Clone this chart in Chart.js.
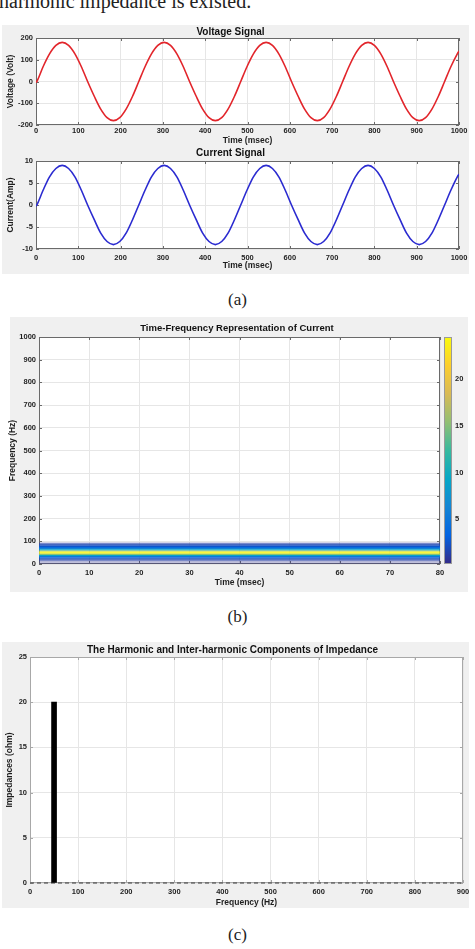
<!DOCTYPE html>
<html>
<head>
<meta charset="utf-8">
<script src="https://cdn.jsdelivr.net/npm/chart.js"></script>
<style>
body{margin:0;background:#fff;width:475px;height:949px;overflow:hidden;position:relative;font-family:"Liberation Serif","Times New Roman",serif}
.panel{position:absolute;background:#f0f0f0}
.cv{position:absolute}
.txt{position:absolute;color:#222;white-space:nowrap}
.cap{position:absolute;left:0;width:475px;text-align:center;font-size:17px;line-height:20px;color:#222}
</style>
</head>
<body>
<div class="txt" style="left:-1px;top:-9px;font-size:20px;line-height:20px">harmonic impedance is existed.</div>

<div class="panel" style="left:2px;top:25px;width:467px;height:249px"></div>
<div class="panel" style="left:10px;top:317px;width:458px;height:275px"></div>
<div class="panel" style="left:2px;top:642px;width:467px;height:266px"></div>

<canvas id="volt" class="cv" style="left:2px;top:25px" width="467" height="121"></canvas>
<canvas id="curr" class="cv" style="left:2px;top:146px" width="467" height="126"></canvas>
<canvas id="spec" class="cv" style="left:6px;top:317px" width="462" height="275"></canvas>
<canvas id="imp" class="cv" style="left:2px;top:642px" width="467" height="266"></canvas>

<div class="cap" style="top:290px">(a)</div>
<div class="cap" style="top:607px">(b)</div>
<div class="cap" style="top:925px">(c)</div>

<script>
"use strict"
// (a) signals (msec)
const sigTime = [0,
    2,17,32,47,62,77,92,107,122,138,153,168,183,198,213,228,
    243,258,273,288,303,318,333,348,363,379,394,409,424,439,454,469,
    484,499,514,529,544,559,574,589,604,620,635,650,665,680,695,710,
    725,740,755,770,785,800,815,830,845,861,876,891,906,921,936,951,
    966,981,996,1000];
const voltValue = [-5,
    0,69,127,166,180,166,127,69,0,-69,-127,-166,-180,-166,-127,-69,
    0,69,127,166,180,166,127,69,0,-69,-127,-166,-180,-166,-127,-69,
    0,69,127,166,180,166,127,69,0,-69,-127,-166,-180,-166,-127,-69,
    0,69,127,166,180,166,127,69,0,-69,-127,-166,-180,-166,-127,-69,
    0,69,127,140];
const currValue = [-0.3,
    0,3.4,6.4,8.3,9,8.3,6.4,3.4,0,-3.4,-6.4,-8.3,-9,-8.3,-6.4,-3.4,
    0,3.4,6.4,8.3,9,8.3,6.4,3.4,0,-3.4,-6.4,-8.3,-9,-8.3,-6.4,-3.4,
    0,3.4,6.4,8.3,9,8.3,6.4,3.4,0,-3.4,-6.4,-8.3,-9,-8.3,-6.4,-3.4,
    0,3.4,6.4,8.3,9,8.3,6.4,3.4,0,-3.4,-6.4,-8.3,-9,-8.3,-6.4,-3.4,
    0,3.4,6.4,7.0];
const sigTimeTicks = [0,100,200,300,400,500,600,700,800,900,1000];
const voltTicks = [-200,-100,0,100,200];
const currTicks = [-10,-5,0,5,10];

// (b) spectrogram: frequency bin edges (Hz) and magnitude per bin, constant over time
const specTime = [0, 80];
const specFreqEdges = [0,5,10,15,20,25,30,35,40,45,50,55,60,65,70,75,80,85,90,95];
const specPower = [0.5,0.5,0.6,1.5,2,3,5,9,15,24,24,15,9,6,4,2.5,2,1.5,0.6];
const specTimeTicks = [0,10,20,30,40,50,60,70,80];
const specFreqTicks = [0,100,200,300,400,500,600,700,800,900,1000];
const cbTicks = [5,10,15,20];
const cbMin = 0.2, cbMax = 24.5;

// (c) impedance components
const impFreq = [50];
const impValue = [20];
const impFreqTicks = [0,100,200,300,400,500,600,700,800,900];
const impTicks = [0,5,10,15,20,25];

const sans = '"Liberation Sans", Arial, sans-serif';
const tickFont = {family: sans, size: 7.5, weight: 'bold'};
const axisFont = {family: sans, size: 8.5, weight: 'bold'};
const gridColor = '#e6e6e6';
const textColor = '#1e1e1e';

const parula = ['#352A87','#0363E1','#1485D4','#06A7C6','#38B99E','#92BF73','#D9BA56','#FCCE2E','#F9FB0E'];

function hexRgb(h){
    return [parseInt(h.substr(1,2),16), parseInt(h.substr(3,2),16), parseInt(h.substr(5,2),16)];
}
function parulaColor(v){
    let t = (v - cbMin) / (cbMax - cbMin);
    t = Math.max(0, Math.min(1, t));
    const p = t * (parula.length - 1);
    const i = Math.min(Math.floor(p), parula.length - 2);
    const f = p - i;
    const a = hexRgb(parula[i]), b = hexRgb(parula[i+1]);
    const c = a.map((x,k) => Math.round(x + (b[k]-x)*f));
    const alpha = Math.min(1, v / 1.5);
    return 'rgba(' + c[0] + ',' + c[1] + ',' + c[2] + ',' + alpha.toFixed(2) + ')';
}

function fixW(w){
    return function(s){ s.width = w; s.paddingTop = 0; s.paddingBottom = 0; s.paddingLeft = 0; s.paddingRight = 0; };
}
function fixH(h){
    return function(s){ s.height = h; s.paddingTop = 0; s.paddingBottom = 0; s.paddingLeft = 0; s.paddingRight = 0; };
}
function useTicks(arr){
    return function(s){ s.ticks = arr.map(v => ({value: v})); };
}
function plain(v){ return String(v); }

// matlab-like axes: white area, box with inner tick marks
const boxPlugin = {
    id: 'box',
    beforeDraw(chart){
        const ctx = chart.ctx, a = chart.chartArea;
        ctx.save();
        ctx.fillStyle = '#ffffff';
        ctx.fillRect(a.left, a.top, a.right - a.left, a.bottom - a.top);
        ctx.restore();
    },
    beforeDatasetsDraw(chart, args, opts){
        const ctx = chart.ctx, a = chart.chartArea;
        const sx = chart.scales.x, sy = chart.scales.y;
        ctx.save();
        ctx.strokeStyle = opts.color || '#666';
        ctx.lineWidth = 1;
        ctx.beginPath();
        sx.ticks.forEach(t => {
            const px = Math.round(sx.getPixelForValue(t.value)) + 0.5;
            ctx.moveTo(px, a.bottom); ctx.lineTo(px, a.bottom - 3);
            ctx.moveTo(px, a.top); ctx.lineTo(px, a.top + 3);
        });
        sy.ticks.forEach(t => {
            const py = Math.round(sy.getPixelForValue(t.value)) + 0.5;
            ctx.moveTo(a.left, py); ctx.lineTo(a.left + 3, py);
            ctx.moveTo(a.right, py); ctx.lineTo(a.right - 3, py);
        });
        ctx.stroke();
        ctx.strokeRect(Math.round(a.left) + 0.5, Math.round(a.top) + 0.5,
                       Math.round(a.right - a.left) - 1, Math.round(a.bottom - a.top) - 1);
        ctx.restore();
    }
};

const colorbarPlugin = {
    id: 'colorbar',
    afterDraw(chart){
        const s = chart.scales.cb;
        if (!s) return;
        const ctx = chart.ctx;
        const x0 = s.left + 4, w = 8;
        const g = ctx.createLinearGradient(0, s.bottom, 0, s.top);
        parula.forEach((c,i) => g.addColorStop(i / (parula.length - 1), c));
        ctx.save();
        ctx.fillStyle = g;
        ctx.fillRect(x0, s.top, w, s.bottom - s.top);
        ctx.strokeStyle = '#9a9a9a';
        ctx.lineWidth = 1;
        ctx.strokeRect(x0 + 0.5, s.top + 0.5, w - 1, s.bottom - s.top - 1);
        ctx.restore();
    }
};

function xAxis(min, max, ticks, height, pad, title, titlePad){
    return {
        type: 'linear', min: min, max: max, offset: false,
        afterFit: fixH(height), afterBuildTicks: useTicks(ticks),
        grid: {color: gridColor, drawTicks: false, offset: false},
        border: {display: false},
        ticks: {font: tickFont, color: textColor, padding: pad, maxRotation: 0, autoSkip: false, callback: plain},
        title: {display: true, text: title, font: axisFont, color: textColor, padding: {top: 0, bottom: titlePad}}
    };
}
function yAxis(min, max, ticks, width, title, titlePad){
    return {
        type: 'linear', min: min, max: max,
        afterFit: fixW(width), afterBuildTicks: useTicks(ticks),
        grid: {color: gridColor, drawTicks: false},
        border: {display: false},
        ticks: {font: tickFont, color: textColor, padding: 3, callback: plain},
        title: {display: true, text: title, font: axisFont, color: textColor, padding: {top: titlePad, bottom: 0}}
    };
}
function baseOptions(title, titleSize, padTop, padBottom, layoutPad){
    return {
        responsive: false, animation: false, devicePixelRatio: 1,
        layout: {padding: layoutPad},
        plugins: {
            legend: {display: false},
            tooltip: {enabled: false},
            title: {display: true, text: title, color: '#111',
                    font: {family: sans, size: titleSize, weight: 'bold'},
                    padding: {top: padTop, bottom: padBottom}},
            box: {color: '#6a6a6a'}
        }
    };
}

// voltage
let optV = baseOptions('Voltage Signal', 10, 0, 0, {top: 1, left: 0, right: 10, bottom: 0});
optV.scales = {
    x: xAxis(0, 1000, sigTimeTicks, 21, 1.5, 'Time (msec)', 0),
    y: yAxis(-200, 200, voltTicks, 34, 'Voltage (Volt)', 3.4)
};
new Chart(document.getElementById('volt'), {
    type: 'line',
    data: {datasets: [{
        data: sigTime.map((t,i) => ({x: t, y: voltValue[i]})),
        borderColor: '#e2252b', borderWidth: 1.6, pointRadius: 0,
        cubicInterpolationMode: 'monotone', fill: false
    }]},
    options: optV,
    plugins: [boxPlugin]
});

// current
let optC = baseOptions('Current Signal', 10, 0, 2, {top: 1, left: 0, right: 10, bottom: 0});
optC.scales = {
    x: xAxis(0, 1000, sigTimeTicks, 23, 4.5, 'Time (msec)', 0.9),
    y: yAxis(-10, 10, currTicks, 34, 'Current(Amp)', 3.4)
};
new Chart(document.getElementById('curr'), {
    type: 'line',
    data: {datasets: [{
        data: sigTime.map((t,i) => ({x: t, y: currValue[i]})),
        borderColor: '#2b2bd0', borderWidth: 1.6, pointRadius: 0,
        cubicInterpolationMode: 'monotone', fill: false
    }]},
    options: optC,
    plugins: [boxPlugin]
});

// spectrogram
let optS = baseOptions('Time-Frequency Representation of Current', 9.5, 5.3, 3.3, {top: 0, left: 0, right: 0, bottom: 0});
optS.scales = {
    x: xAxis(0, 80, specTimeTicks, 28, 4.5, 'Time (msec)', 3.9),
    y: yAxis(0, 1000, specFreqTicks, 33, 'Frequency (Hz)', 2),
    cb: {
        type: 'linear', position: 'right', min: cbMin, max: cbMax,
        afterFit: fixW(28), afterBuildTicks: useTicks(cbTicks),
        grid: {drawOnChartArea: false, drawTicks: false},
        border: {display: false},
        ticks: {font: tickFont, color: textColor, padding: 15, callback: plain}
    }
};
new Chart(document.getElementById('spec'), {
    type: 'line',
    data: {datasets: specPower.map((p,i) => ({
        data: [{x: specTime[0], y: specFreqEdges[i+1]}, {x: specTime[1], y: specFreqEdges[i+1]}],
        fill: {value: specFreqEdges[i]},
        backgroundColor: parulaColor(p),
        borderColor: 'rgba(0,0,0,0)', borderWidth: 0, pointRadius: 0
    }))},
    options: optS,
    plugins: [boxPlugin, colorbarPlugin]
});

// impedance
let optI = baseOptions('The Harmonic and Inter-harmonic Components of Impedance', 10, 2, 1, {top: 0, left: 0, right: 6, bottom: 0});
optI.plugins.box.color = '#a8a8a8';
optI.scales = {
    x: xAxis(0, 900, impFreqTicks, 25, 4.5, 'Frequency (Hz)', 0),
    y: yAxis(0, 25, impTicks, 28, 'Impedances (ohm)', 3)
};
new Chart(document.getElementById('imp'), {
    type: 'bar',
    data: {datasets: [
        {
            data: impFreq.map((f,i) => ({x: f, y: impValue[i]})),
            backgroundColor: '#000', barThickness: 5, borderWidth: 0
        },
        {
            type: 'line',
            data: [{x: impFreqTicks[0], y: 0}, {x: impFreqTicks[impFreqTicks.length-1], y: 0}],
            borderColor: '#3a3a3a', borderWidth: 1.2, borderDash: [4,3], pointRadius: 0,
            fill: false, clip: false
        }
    ]},
    options: optI,
    plugins: [boxPlugin]
});
</script>
</body>
</html>
